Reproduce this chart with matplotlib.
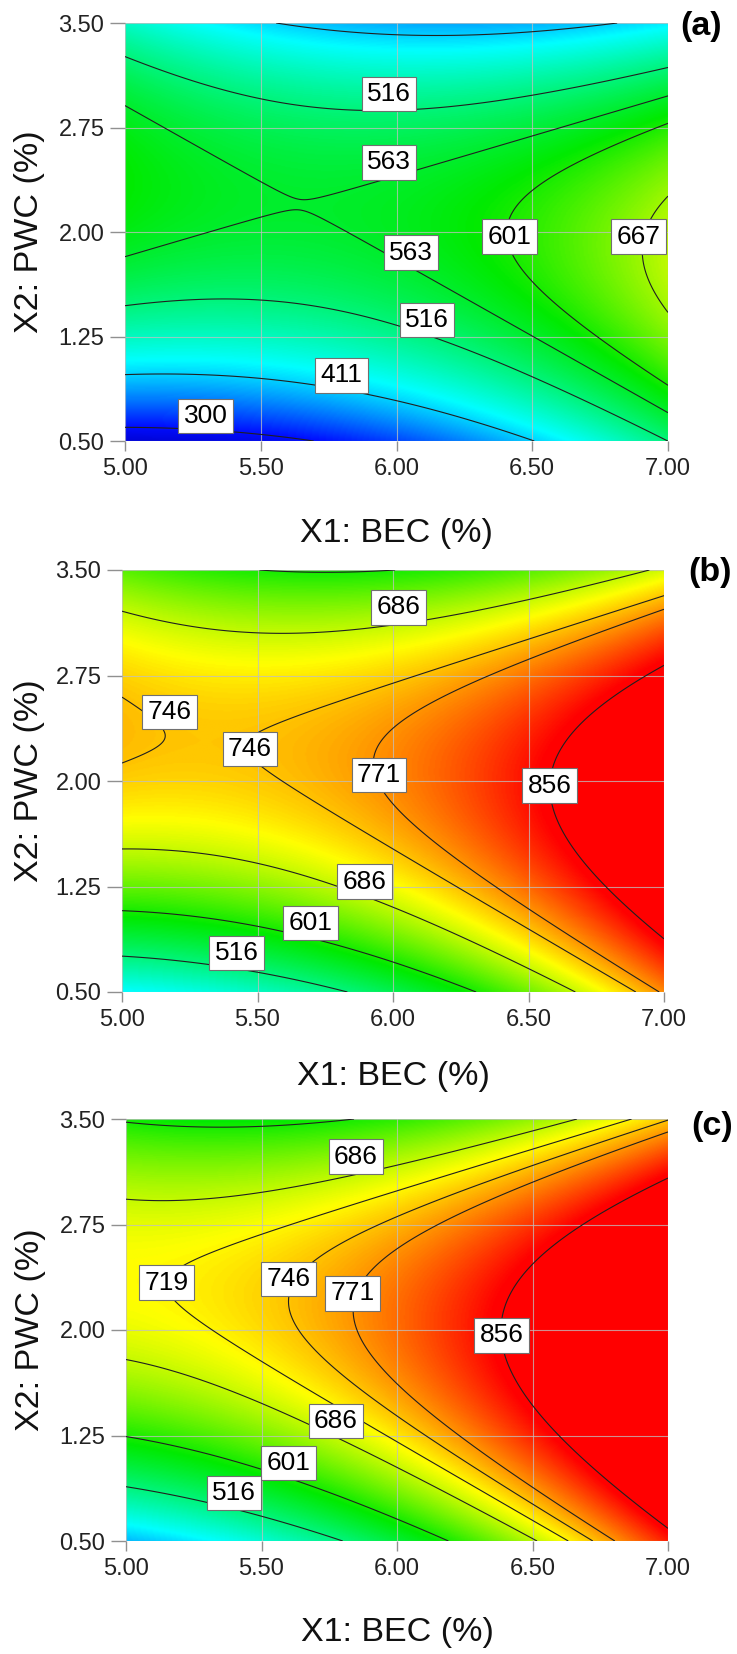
import numpy as np
import matplotlib
matplotlib.use("Agg")
import matplotlib.pyplot as plt
from matplotlib.colors import LinearSegmentedColormap, Normalize

plt.rcParams["font.family"] = ["Liberation Sans", "DejaVu Sans"]

# Factor ranges and tick values
BEC_RANGE = [5.0, 7.0]
PWC_RANGE = [0.5, 3.5]
BEC_TICKS = [5.00, 5.50, 6.00, 6.50, 7.00]
PWC_TICKS = [0.50, 1.25, 2.00, 2.75, 3.50]

# Quadratic response-surface coefficients in coded units:
# [intercept, A, B, AB, A^2, B^2] with A = (BEC - 6) / 1, B = (PWC - 2) / 1.5
COEF_A = [570.40, 51.44, 28.60, -73.24, 58.99, -209.25]
COEF_B = [776.57, 100.44, 28.94, -69.89, 62.94, -204.75]
COEF_C = [791.30, 146.10, 26.90, -72.45, 58.76, -207.00]

# Contour levels of each panel
LEVELS_A = [300, 411, 516, 563, 601, 667]
LEVELS_B = [516, 601, 686, 746, 771, 856]
LEVELS_C = [516, 601, 686, 719, 746, 771, 856]

# Labelled contour values
LABELS_A = [516, 563, 563, 601, 667, 516, 411, 300]
LABELS_B = [686, 746, 746, 771, 856, 686, 601, 516]
LABELS_C = [686, 719, 746, 771, 856, 686, 601, 516]

# Label anchor points (BEC, PWC)
LABEL_XY_A = [(5.972, 2.99), (5.972, 2.50), (6.054, 1.851), (6.416, 1.966),
              (6.892, 1.966), (6.112, 1.367), (5.797, 0.972), (5.297, 0.679)]
LABEL_XY_B = [(6.02, 3.234), (5.176, 2.49), (5.472, 2.228), (5.948, 2.043),
              (6.578, 1.967), (5.895, 1.285), (5.695, 0.992), (5.423, 0.778)]
LABEL_XY_C = [(5.848, 3.232), (5.15, 2.337), (5.599, 2.361), (5.835, 2.261),
              (6.386, 1.962), (5.774, 1.352), (5.599, 1.055), (5.399, 0.842)]

PANEL_TAGS = ["(a)", "(b)", "(c)"]


def response(coef, bec, pwc):
    a = (bec - 6.0) / 1.0
    b = (pwc - 2.0) / 1.5
    b0, ba, bb, bab, baa, bbb = coef
    return b0 + ba * a + bb * b + bab * a * b + baa * a * a + bbb * b * b


# Blue - cyan - green - yellow - red ramp on a shared value scale
VMIN, VMAX = 250.0, 850.0
stops = [(250, (0.0, 0.0, 0.78)), (300, (0.0, 0.05, 1.0)), (435, (0.0, 1.0, 1.0)),
         (590, (0.0, 0.92, 0.0)), (715, (1.0, 1.0, 0.0)), (850, (1.0, 0.0, 0.0))]
cmap = LinearSegmentedColormap.from_list(
    "ramp", [((v - VMIN) / (VMAX - VMIN), c) for v, c in stops])
norm = Normalize(VMIN, VMAX, clip=True)

W, H = 737, 1654
fig = plt.figure(figsize=(W / 100, H / 100), dpi=100)

# axes boxes in pixels: left, top, right, bottom
boxes = [(125, 23, 668, 441), (122, 570, 664, 992), (126, 1119, 668, 1541)]
xlab_off = [92, 84, 91]
ylab_off = [95, 92, 95]
tag_pos = [(701, 27), (710, 572), (712, 1127)]

panels = [(COEF_A, LEVELS_A, LABELS_A, LABEL_XY_A),
          (COEF_B, LEVELS_B, LABELS_B, LABEL_XY_B),
          (COEF_C, LEVELS_C, LABELS_C, LABEL_XY_C)]

gx = np.linspace(BEC_RANGE[0], BEC_RANGE[1], 400)
gy = np.linspace(PWC_RANGE[0], PWC_RANGE[1], 400)
GX, GY = np.meshgrid(gx, gy)

for i, (coef, levels, labels, label_xy) in enumerate(panels):
    l, t, r, b = boxes[i]
    ax = fig.add_axes([l / W, 1 - b / H, (r - l) / W, (b - t) / H])
    Z = response(coef, GX, GY)
    ax.imshow(Z, extent=[*BEC_RANGE, *PWC_RANGE], origin="lower", aspect="auto",
              cmap=cmap, norm=norm, interpolation="bilinear", zorder=0)
    ax.contour(GX, GY, Z, levels=levels, colors="#202020", linewidths=0.8, zorder=2)
    for val, (px, py) in zip(labels, label_xy):
        ax.text(px, py, f"{val}", ha="center", va="center", fontsize=19,
                color="black", zorder=4,
                bbox=dict(boxstyle="square,pad=0.2", facecolor="white",
                          edgecolor="#707070", linewidth=0.8))

    ax.set_xlim(*BEC_RANGE)
    ax.set_ylim(*PWC_RANGE)
    ax.set_xticks(BEC_TICKS)
    ax.set_xticklabels([f"{v:.2f}" for v in BEC_TICKS])
    ax.set_yticks(PWC_TICKS)
    ax.set_yticklabels([f"{v:.2f}" for v in PWC_TICKS])
    ax.grid(True, color="#c0c0c0", linewidth=0.8, alpha=0.75)
    for s in ax.spines.values():
        s.set_visible(False)
    ax.tick_params(axis="x", length=7.2, width=1, color="#909090", pad=5,
                   labelsize=17, labelcolor="#222222")
    ax.tick_params(axis="y", length=10.8, width=1, color="#909090", pad=4,
                   labelsize=17, labelcolor="#222222")

    ax.set_xlabel("X1: BEC (%)", fontsize=24.5, color="#111111", va="center")
    ax.xaxis.set_label_coords(0.5, -xlab_off[i] / (b - t))
    ax.set_ylabel("X2: PWC (%)", fontsize=24.5, color="#111111", va="center")
    ax.yaxis.set_label_coords(-ylab_off[i] / (r - l), 0.5)

    tx, ty = tag_pos[i]
    fig.text(tx / W, 1 - ty / H, PANEL_TAGS[i], ha="center", va="center",
             fontsize=24.5, fontweight="bold", color="black")

fig.savefig("out.png", dpi=100)
